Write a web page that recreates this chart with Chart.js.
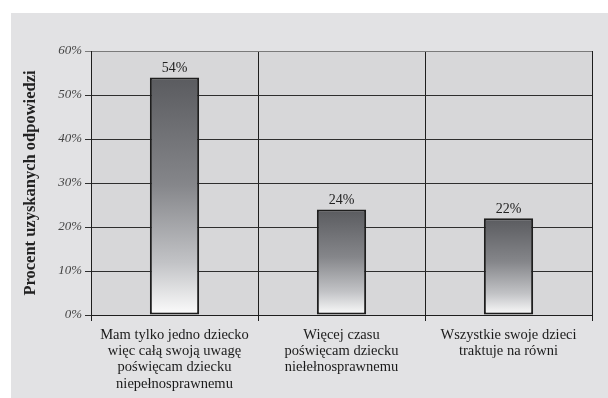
<!DOCTYPE html>
<html lang="pl">
<head>
<meta charset="utf-8">
<title>Procent uzyskanych odpowiedzi</title>
<script src="https://cdn.jsdelivr.net/npm/chart.js@4/dist/chart.umd.min.js"></script>
<style>
  html, body { margin: 0; padding: 0; background: #ffffff; }
  #wrap { width: 608px; height: 398px; }
</style>
</head>
<body>
<div id="wrap"><canvas id="chart" width="608" height="398"></canvas></div>
<script>
// Answer categories (multi-line labels) and share of responses, in percent
const categories = [
  ["Mam tylko jedno dziecko", "więc całą swoją uwagę", "poświęcam dziecku", "niepełnosprawnemu"],
  ["Więcej czasu", "poświęcam dziecku", "niełełnosprawnemu"],
  ["Wszystkie swoje dzieci", "traktuje na równi"]
];
const responses = [54, 24, 22];
const yTicks = [0, 10, 20, 30, 40, 50, 60];
const yTitle = "Procent uzyskanych odpowiedzi";

const SERIF = "'Liberation Serif', 'DejaVu Serif', serif";

// Gray panel behind the whole chart and a slightly darker plot area
const backdrop = {
  id: 'backdrop',
  beforeDraw(chart) {
    const { ctx, chartArea: a } = chart;
    ctx.save();
    ctx.fillStyle = '#e2e2e4';
    ctx.fillRect(11, 13, chart.width - 11, chart.height - 13);
    ctx.fillStyle = '#d7d7d9';
    ctx.fillRect(a.left, a.top, a.right - a.left, a.bottom - a.top);
    ctx.restore();
  }
};

// Percentage label above every bar
const valueLabels = {
  id: 'valueLabels',
  afterDatasetsDraw(chart) {
    const { ctx } = chart;
    const meta = chart.getDatasetMeta(0);
    ctx.save();
    ctx.font = "14px " + SERIF;
    ctx.fillStyle = '#222222';
    ctx.textAlign = 'center';
    ctx.textBaseline = 'alphabetic';
    meta.data.forEach((bar, i) => {
      ctx.fillText(responses[i] + '%', bar.x, bar.y - 5);
    });
    ctx.restore();
  }
};

// Each bar fades from dark gray at its top to white at its base
function barGradient(context) {
  const chart = context.chart;
  const y = chart.scales && chart.scales.y;
  if (!chart.chartArea || !y) return '#8c8d91';
  const top = y.getPixelForValue(context.raw);
  const base = y.getPixelForValue(0);
  const g = chart.ctx.createLinearGradient(0, top, 0, base);
  g.addColorStop(0, '#5a5b5f');
  g.addColorStop(0.45, '#85868a');
  g.addColorStop(0.78, '#c2c3c6');
  g.addColorStop(1, '#fcfcfc');
  return g;
}

new Chart(document.getElementById('chart'), {
  type: 'bar',
  data: {
    labels: categories,
    datasets: [{
      data: responses,
      backgroundColor: barGradient,
      borderColor: '#1e1e1e',
      borderWidth: 2,
      borderSkipped: false,
      categoryPercentage: 1.0,
      barPercentage: 0.295
    }]
  },
  options: {
    responsive: false,
    animation: false,
    devicePixelRatio: 1,
    layout: { padding: { left: 0, right: 16, top: 51, bottom: 0 } },
    plugins: {
      legend: { display: false },
      tooltip: { enabled: false }
    },
    scales: {
      x: {
        grid: {
          offset: true,
          color: (c) => (c.index === categories.length ? '#6e6e6e' : '#1e1e1e'),
          lineWidth: (c) => (c.index === categories.length ? 2 : 1),
          tickLength: 6,
          drawTicks: true
        },
        border: { color: '#1e1e1e', width: 1 },
        ticks: {
          font: { family: SERIF, size: 14.5, lineHeight: 1.12 },
          color: '#1a1a1a',
          padding: 6,
          maxRotation: 0,
          autoSkip: false
        },
        afterFit(scale) { scale.height = 83; }
      },
      y: {
        min: 0,
        max: 60,
        afterBuildTicks(scale) { scale.ticks = yTicks.map(v => ({ value: v })); },
        grid: {
          color: (c) => (c.tick && c.tick.value === 60 ? '#7a7a7a' : '#2e2e2e'),
          lineWidth: 1,
          tickLength: 6,
          drawTicks: true
        },
        border: { color: '#1e1e1e', width: 1 },
        ticks: {
          font: { family: SERIF, size: 13, style: 'italic' },
          color: '#444444',
          padding: 3,
          callback: (v) => v + '%'
        },
        title: {
          display: true,
          text: yTitle,
          font: { family: SERIF, size: 16.5, weight: 'bold' },
          color: '#222222',
          padding: { top: 21, bottom: 0 }
        },
        afterFit(scale) { scale.width = 91; }
      }
    }
  },
  plugins: [backdrop, valueLabels]
});
</script>
</body>
</html>
